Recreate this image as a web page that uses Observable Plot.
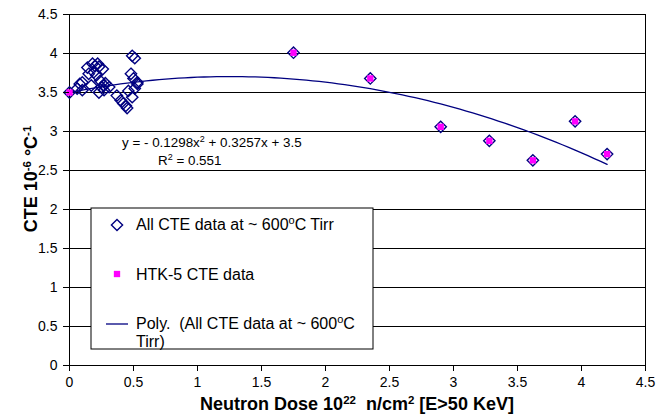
<!DOCTYPE html>
<html>
<head>
<meta charset="utf-8">
<script src="https://cdn.jsdelivr.net/npm/d3@7"></script>
<script src="https://cdn.jsdelivr.net/npm/@observablehq/plot@0.6"></script>
<style>
  body { margin: 0; background: #fff; }
  svg text { white-space: pre; }
</style>
</head>
<body>
<div id="chart"></div>
<script>
// Low-dose CTE measurements (dose in 10^22 n/cm^2, CTE in 10^-6 /°C)
const lowDose = [0.06, 0.08, 0.10, 0.10, 0.14, 0.15, 0.17, 0.18, 0.19, 0.20, 0.21, 0.22, 0.23, 0.23,
                 0.24, 0.25, 0.26, 0.27, 0.27, 0.28, 0.31, 0.37, 0.40, 0.42, 0.44, 0.45, 0.46, 0.48,
                 0.49, 0.49, 0.50, 0.51, 0.51, 0.53, 0.53];
const lowCte  = [3.55, 3.61, 3.63, 3.53, 3.82, 3.74, 3.59, 3.87, 3.76, 3.84, 3.72, 3.87, 3.83, 3.50,
                 3.65, 3.57, 3.80, 3.59, 3.53, 3.62, 3.57, 3.46, 3.40, 3.36, 3.33, 3.30, 3.52, 3.74,
                 3.44, 3.97, 3.68, 3.94, 3.55, 3.61, 3.63];

// HTK-5 measurements (also part of the full CTE data set)
const htkDose = [0, 1.75, 2.35, 2.90, 3.28, 3.62, 3.95, 4.20];
const htkCte  = [3.50, 4.01, 3.68, 3.06, 2.88, 2.63, 3.13, 2.71];

// Second-order polynomial trend: y = c2*x^2 + c1*x + c0
const polyCoef = { c2: -0.1298, c1: 0.3257, c0: 3.5 };
const rSquared = 0.551;

const xTicks = [0, 0.5, 1, 1.5, 2, 2.5, 3, 3.5, 4, 4.5];
const yTicks = [0, 0.5, 1, 1.5, 2, 2.5, 3, 3.5, 4, 4.5];

const allData = lowDose.map((d, i) => ({ dose: d, cte: lowCte[i] }))
  .concat(htkDose.map((d, i) => ({ dose: d, cte: htkCte[i] })));
const htkData = htkDose.map((d, i) => ({ dose: d, cte: htkCte[i] }));

// Trend curve sampled across the measured dose range
const doseMax = d3.max(allData, d => d.dose);
const trend = d3.range(0, 85).map(i => (i / 84) * doseMax)
  .map(x => ({ dose: x, cte: polyCoef.c2 * x * x + polyCoef.c1 * x + polyCoef.c0 }));

const navy = "#000080";
const magenta = "#ff00ff";
const font = "'Liberation Sans', Arial, sans-serif";

const W = 656, H = 416, mL = 69, mR = 11, mT = 14, mB = 51;

const chart = Plot.plot({
  width: W, height: H,
  marginLeft: mL, marginRight: mR, marginTop: mT, marginBottom: mB,
  style: { fontFamily: font, fontSize: "14px", color: "#000", background: "#fff" },
  x: { domain: [0, 4.5] },
  y: { domain: [0, 4.5] },
  marks: [
    Plot.ruleY(yTicks, { y: d => d, stroke: "#000", strokeWidth: 1 }),
    Plot.ruleX([0, 4.5], { x: d => d, stroke: "#000", strokeWidth: 1 }),
    Plot.line(trend, { x: "dose", y: "cte", stroke: navy, strokeWidth: 1.3 }),
    Plot.dot(allData, { x: "dose", y: "cte", symbol: "diamond2", r: 5.1, stroke: navy, strokeWidth: 1.4, fill: "none" }),
    Plot.dot(htkData, { x: "dose", y: "cte", symbol: "square", r: 3.6, fill: magenta, stroke: "none" }),
    Plot.axisX({ ticks: xTicks, tickFormat: d => String(d), tickSize: 6, tickPadding: 6, label: null }),
    Plot.axisY({ ticks: yTicks, tickFormat: d => String(d), tickSize: 6, tickPadding: 6, label: null })
  ]
});

document.getElementById("chart").appendChild(chart);

const svg = d3.select(chart);

// helper: append text with superscript parts; parts = [[str, isSup], ...]
function richText(g, parts, supSize) {
  parts.forEach(([s, sup]) => {
    const t = g.append("tspan").text(s);
    if (sup) t.attr("baseline-shift", "super").attr("font-size", supSize);
  });
  return g;
}

// Trend equation
const eq = svg.append("g").attr("font-family", font).attr("font-size", 13.4)
  .attr("fill", "#000").attr("text-anchor", "start");
richText(eq.append("text").attr("x", 122).attr("y", 147),
  [["y = - " + (-polyCoef.c2) + "x", false], ["2", true], [" + " + polyCoef.c1 + "x + " + polyCoef.c0, false]], 9);
richText(eq.append("text").attr("x", 158).attr("y", 165),
  [["R", false], ["2", true], [" = " + rSquared, false]], 9);

// Legend
const lg = svg.append("g").attr("font-family", font).attr("font-size", 16)
  .attr("fill", "#000").attr("text-anchor", "start");
lg.append("rect").attr("x", 91).attr("y", 208).attr("width", 282).attr("height", 141)
  .attr("fill", "#fff").attr("stroke", "#000").attr("stroke-width", 1);
lg.append("path").attr("d", d3.symbol(d3.symbolDiamond2, 80)())
  .attr("transform", "translate(117,225)").attr("fill", "none").attr("stroke", navy).attr("stroke-width", 1.4);
richText(lg.append("text").attr("x", 136).attr("y", 230),
  [["All CTE data at ~ 600", false], ["o", true], ["C Tirr", false]], 11);
lg.append("path").attr("d", d3.symbol(d3.symbolSquare, 40)())
  .attr("transform", "translate(117,274)").attr("fill", magenta);
lg.append("text").attr("x", 136).attr("y", 280).text("HTK-5 CTE data");
lg.append("line").attr("x1", 106).attr("x2", 128).attr("y1", 324).attr("y2", 324)
  .attr("stroke", navy).attr("stroke-width", 1.3);
richText(lg.append("text").attr("x", 136).attr("y", 329),
  [["Poly.  (All CTE data at ~ 600", false], ["o", true], ["C", false]], 11);
lg.append("text").attr("x", 136).attr("y", 347).text("Tirr)");

// Axis titles
const xt = svg.append("text").attr("font-family", font).attr("font-size", 18).attr("font-weight", "bold")
  .attr("text-anchor", "middle").attr("x", (mL + W - mR) / 2).attr("y", 410);
richText(xt, [["Neutron Dose 10", false], ["22", true], ["  n/cm", false], ["2", true], [" [E>50 KeV]", false]], 11.5);

const yt = svg.append("text").attr("font-family", font).attr("font-size", 18).attr("font-weight", "bold")
  .attr("text-anchor", "middle").attr("transform", "translate(37,179) rotate(-90)");
richText(yt, [["CTE 10", false], ["-6", true], [" \u00B0C", false], ["-1", true]], 11.5);
</script>
</body>
</html>
